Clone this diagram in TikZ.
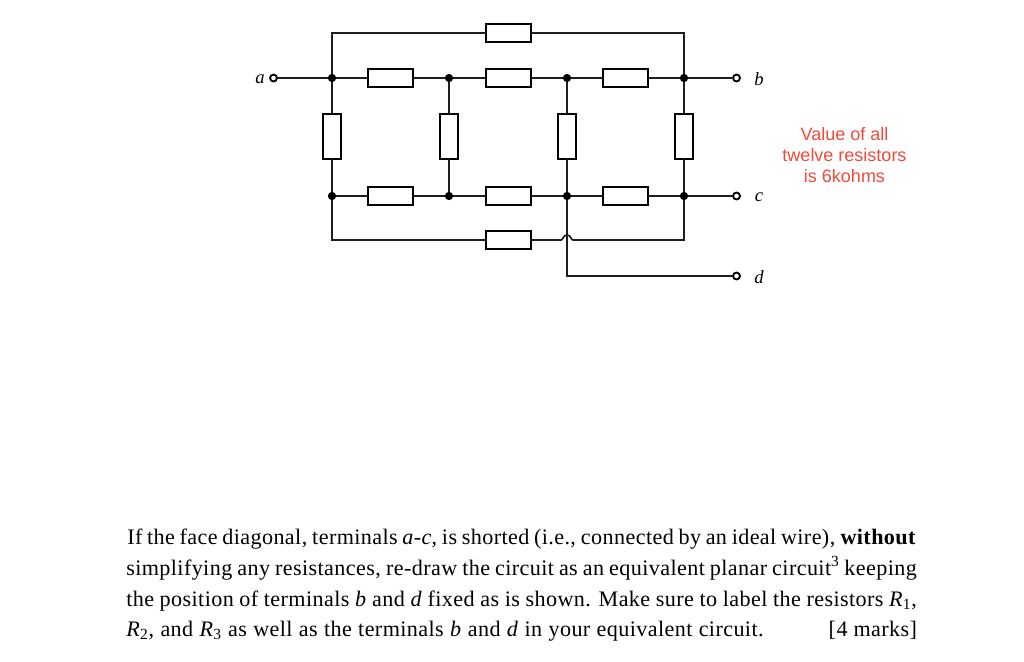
\documentclass[tikz,border=0pt]{standalone}
\usepackage{fontspec}
\setmainfont[LetterSpace=1.8]{Liberation Serif}
\newfontfamily\redsans{Liberation Sans}
\newfontfamily\labelserif{Liberation Serif}
\definecolor{wirecol}{HTML}{1E1E1E}
\definecolor{notered}{HTML}{F2493B}
\newcommand{\bodyline}[2]{\makebox[#1][s]{#2}}
\tikzset{
  wire/.style={draw=wirecol,line width=1.25pt},
  resh/.style={draw=black,fill=white,line width=1.6pt,minimum width=33.75pt,minimum height=13.5pt,inner sep=0pt,outer sep=0pt},
  resv/.style={draw=black,fill=white,line width=1.6pt,minimum width=13.5pt,minimum height=33.75pt,inner sep=0pt,outer sep=0pt},
  junction/.style={circle,fill=black,minimum size=6.2pt,inner sep=0pt,outer sep=0pt},
  terminal/.style={circle,draw=black,fill=white,line width=1.4pt,minimum size=5.2pt,inner sep=0pt,outer sep=0pt},
  termlabel/.style={font=\labelserif\fontsize{14}{15}\selectfont\itshape,text=black,inner sep=0pt},
  notetext/.style={font=\redsans\fontsize{13.5}{15.7}\selectfont,text=notered,align=center,inner sep=0pt},
  bodytext/.style={font=\fontsize{16.6}{18}\selectfont,anchor=base west,inner sep=0pt,text=black}
}
\begin{document}
\begin{tikzpicture}[x=0.75pt,y=-0.75pt]
\useasboundingbox (0,0) rectangle (1024,661);
% junctions
\node[junction] (n11) at (332,78) {};
\node[junction] (n12) at (449,78) {};
\node[junction] (n13) at (567,78) {};
\node[junction] (n14) at (684,78) {};
\node[junction] (n21) at (332,196) {};
\node[junction] (n22) at (449,196) {};
\node[junction] (n23) at (567,196) {};
\node[junction] (n24) at (684,196) {};
% terminals
\node[terminal] (ta) at (273.5,78) {};
\node[terminal] (tb) at (736.5,78) {};
\node[terminal] (tc) at (736.5,196) {};
\node[terminal] (td) at (736.5,276) {};
% corners
\coordinate (ctl) at (332,33);
\coordinate (ctr) at (684,33);
\coordinate (cbl) at (332,240);
\coordinate (cbr) at (684,240);
\coordinate (cd) at (567,276);
\coordinate (hopl) at (561,240);
\coordinate (hopr) at (573,240);
% resistors
\node[resh] (rtop) at (508.5,33) {};
\node[resh] (r1) at (390.5,78) {};
\node[resh] (r2) at (508.5,78) {};
\node[resh] (r3) at (625.5,78) {};
\node[resv] (v1) at (332,136.5) {};
\node[resv] (v2) at (449,136.5) {};
\node[resv] (v3) at (567,136.5) {};
\node[resv] (v4) at (684,136.5) {};
\node[resh] (r4) at (390.5,196) {};
\node[resh] (r5) at (508.5,196) {};
\node[resh] (r6) at (625.5,196) {};
\node[resh] (rbot) at (508.5,240) {};
% wires
\draw[wire] (ta) -- (n11) -- (r1) -- (n12) -- (r2) -- (n13) -- (r3) -- (n14) -- (tb);
\draw[wire] (n21) -- (r4) -- (n22) -- (r5) -- (n23) -- (r6) -- (n24) -- (tc);
\draw[wire] (n11) -- (ctl) -- (rtop) -- (ctr) -- (n14);
\draw[wire] (n21) -- (cbl) -- (rbot) -- (hopl) .. controls (563,240) and (563,235) .. (567,235) .. controls (571,235) and (571,240) .. (hopr) -- (cbr) -- (n24);
\draw[wire] (n13) -- (v3) -- (n23) -- (cd) -- (td);
\draw[wire] (n11) -- (v1) -- (n21);
\draw[wire] (n12) -- (v2) -- (n22);
\draw[wire] (n14) -- (v4) -- (n24);
% terminal labels
\node[termlabel] (la) at (260,79) {a};
\node[termlabel] (lb) at (759,79) {b};
\node[termlabel] (lc) at (759,197) {c};
\node[termlabel] (ld) at (759,277) {d};
% note
\node[notetext] (note) at (844.5,155) {Value of all\\twelve resistors\\is 6kohms};
% body
\node[bodytext] (l1) at (127,544.5) {\bodyline{591.5pt}{If the face diagonal, terminals \textit{a-c}, is shorted (i.e., connected by an ideal wire), \textbf{without}}};
\node[bodytext] (l2) at (126,575) {\bodyline{593pt}{simplifying any resistances, re-draw the circuit as an equivalent planar circuit\textsuperscript{3} keeping}};
\node[bodytext] (l3) at (126,606) {\bodyline{593pt}{the position of terminals \textit{b} and \textit{d} fixed as is shown. Make sure to label the resistors \textit{R}\textsubscript{1},}};
\node[bodytext] (l4) at (126,636.5) {\makebox[593pt][l]{\bodyline{478pt}{\textit{R}\textsubscript{2}, and \textit{R}\textsubscript{3} as well as the terminals \textit{b} and \textit{d} in your equivalent circuit.}\hfill[4 marks]}};
\end{tikzpicture}
\end{document}
